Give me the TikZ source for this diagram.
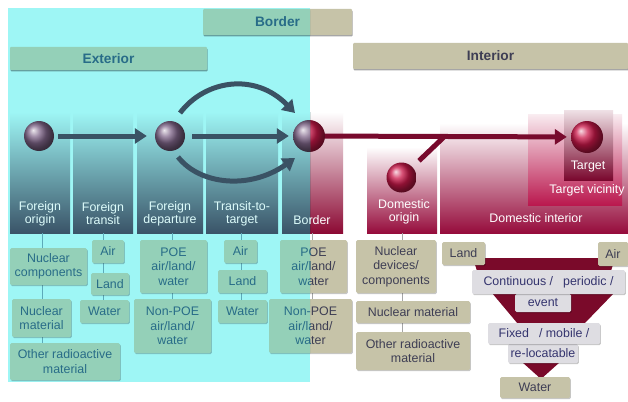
\documentclass[tikz,border=0pt]{standalone}
\usepackage{fontspec}
\setmainfont{Liberation Sans}
\usetikzlibrary{arrows.meta,shadows}

\definecolor{cyanbg}{RGB}{158,246,245}
\definecolor{greenbox}{RGB}{148,208,184}
\definecolor{tanbox}{RGB}{198,195,168}
\definecolor{grayboxc}{RGB}{222,221,226}
\definecolor{slatecol}{RGB}{58,84,104}
\definecolor{crimcol}{RGB}{140,10,52}
\definecolor{domcol}{RGB}{150,12,60}
\definecolor{tvcol}{RGB}{186,24,78}
\definecolor{tgtcol}{RGB}{122,8,46}
\definecolor{funnelc}{RGB}{122,10,42}
\definecolor{slatearr}{RGB}{58,82,100}
\definecolor{maroonarr}{RGB}{120,10,45}
\definecolor{slateball}{RGB}{128,102,138}
\definecolor{redball}{RGB}{204,24,74}
\definecolor{tealtext}{RGB}{40,108,136}
\definecolor{darktext}{RGB}{62,62,84}
\definecolor{navytext}{RGB}{52,52,110}

\newcommand\hdrfont{\fontsize{13.7}{16}\selectfont\bfseries}
\newcommand\boxfont{\fontsize{12.4}{14.5}\selectfont}
\newcommand\colfont{\fontsize{12.4}{13}\selectfont}

\newcommand\myscene{%
  % header bars
  \node[hbar, minimum width=149pt, minimum height=26pt] (hborder) at (277.5,22) {Border};
  \node[hbar, minimum width=197pt, minimum height=23pt] (hext) at (108.5,58.5) {Exterior};
  \node[hbar, minimum width=275pt, minimum height=26pt] (hint) at (490.5,56) {Interior};
  % columns
  \fill[colsh] (10,112) rectangle (70,233);
  \fill[colsh] (73,112) rectangle (133,233);
  \fill[colsh] (137,112) rectangle (203,233);
  \fill[colsh] (206,112) rectangle (278,233);
  \fill[colsh] (282,112) rectangle (343,233);
  \fill[top color=BG, bottom color=domcol] (367,147) rectangle (437,233);
  \fill[top color=BG, bottom color=domcol] (440,123) rectangle (628,233);
  \fill[top color=tvcol!8!BG, bottom color=tvcol] (528,114) rectangle (622,205);
  \fill[top color=tgtcol!12!BG, bottom color=tgtcol] (564,110) rectangle (613,180);
  % column labels
  \node[coltext] (l1) at (40,213.5) {Foreign\\origin};
  \node[coltext] (l2) at (103,213.5) {Foreign\\transit};
  \node[coltext] (l3) at (170,213.5) {Foreign\\departure};
  \node[coltext] (l4) at (242,213.5) {Transit-to-\\target};
  \node[coltext] (l5) at (312,220) {Border};
  \node[coltext] (l6) at (404,212) {Domestic\\origin};
  \node[coltext] (l7) at (536,218) {Domestic interior};
  \node[coltext] (l8) at (588,167) {Target};
  \node[coltext] (l9) at (587,190) {Target vicinity};
  % balls
  \node[orb] (b1) at (39,136) {};
  \node[orb] (b2) at (170,136) {};
  \node[orb, minimum size=32pt] (b3) at (309,136) {};
  \node[orb] (b4) at (401.5,177.5) {};
  \node[orb, minimum size=32pt] (b5) at (587,137) {};
  \coordinate (join) at (445,136);
  % arrows
  \draw[arr, shorten <=4pt, shorten >=8pt] (b1) -- (b2);
  \draw[arr, shorten <=7pt, shorten >=4pt] (b2) -- (b3);
  \draw[arr] ([shift={(10,-23)}]b2.center) .. controls (205,80) and (255,72) .. ([shift={(-14,-23)}]b3.center);
  \draw[arr] ([shift={(8,21)}]b2.center) .. controls (200,185) and (250,190) .. ([shift={(-14,22)}]b3.center);
  \draw[arr, shorten >=4pt] (b3) -- (b5);
  \draw[joinline, shorten <=9pt] (b4) -- (join);
  % tree lines
  \coordinate (cb1) at (42,233);
  \coordinate (cb2) at (103,233);
  \coordinate (cb3) at (172,233);
  \coordinate (cb4) at (241,233);
  \coordinate (cb5) at (312,233);
  \coordinate (cb6) at (402,233);
  \coordinate (e1) at (42,343);
  \coordinate (e2) at (103,300);
  \coordinate (e3) at (172,299);
  \coordinate (e4) at (241,300);
  \coordinate (e5) at (312,299);
  \coordinate (e6) at (402,332);
  \draw[treeline] (cb1) -- (e1);
  \draw[treeline] (cb2) -- (e2);
  \draw[treeline] (cb3) -- (e3);
  \draw[treeline] (cb4) -- (e4);
  \draw[treeline] (cb5) -- (e5);
  \draw[treeline] (cb6) -- (e6);
  % boxes
  \node[lbox, minimum width=77pt, minimum height=37pt] (nc) at (48.5,266.5) {Nuclear\\components};
  \node[lbox, minimum width=59pt, minimum height=38pt] (nm) at (41.5,318) {Nuclear\\material};
  \node[lbox, minimum width=110pt, minimum height=37pt] (ora) at (65,361.5) {Other radioactive\\material};
  \node[lbox, minimum width=32pt, minimum height=23pt] (air1) at (108,251.5) {Air};
  \node[lbox, minimum width=38pt, minimum height=22pt] (land1) at (110,284) {Land};
  \node[lbox, minimum width=49pt, minimum height=23pt] (water1) at (104.5,311.5) {Water};
  \node[lbox, minimum width=67pt, minimum height=53pt] (poe1) at (173.5,266.5) {POE\\air/land/\\water};
  \node[lbox, minimum width=77pt, minimum height=54pt] (npoe1) at (172.5,326) {Non-POE\\air/land/\\water};
  \node[lbox, minimum width=33pt, minimum height=23pt] (air2) at (240.5,251.5) {Air};
  \node[lbox, minimum width=49pt, minimum height=23pt] (land2) at (242.5,281.5) {Land};
  \node[lbox, minimum width=49pt, minimum height=23pt] (water2) at (242.5,311.5) {Water};
  \node[lbox, minimum width=67pt, minimum height=53pt] (poe2) at (313.5,266.5) {POE\\air/land/\\water};
  \node[lbox, minimum width=83pt, minimum height=54pt] (npoe2) at (310.5,326) {Non-POE\\air/land/\\water};
  \node[lbox, minimum width=80pt, minimum height=53pt] (ndc) at (396,266.5) {Nuclear\\devices/\\components};
  \node[lbox, minimum width=114pt, minimum height=22pt] (nm2) at (413,312) {Nuclear material};
  \node[lbox, minimum width=114pt, minimum height=38pt] (ora2) at (413,351) {Other radioactive\\material};
  % funnel
  \fill[funnelc] (473,258) -- (615,258) -- (611,271) -- (477,271) -- cycle;
  \fill[funnelc] (492,293) -- (614,293) -- (584,324) -- (518,324) -- cycle;
  \fill[funnelc] (522,362) -- (560,362) -- (541,379) -- cycle;
  \node[lbox, minimum width=43pt, minimum height=23pt] (land3) at (463.5,253.5) {Land};
  \node[lbox, minimum width=30pt, minimum height=24pt] (air3) at (613,254) {Air};
  \node[gbox, minimum width=56pt, minimum height=18pt] (ev) at (543,303) {event};
  \node[gbox, minimum width=153pt, minimum height=24pt] (cpe) at (548.5,282) {Continuous /\hspace{10pt}periodic /};
  \node[gbox, minimum width=70pt, minimum height=19pt] (rl) at (543,353.5) {re-locatable};
  \node[gbox, minimum width=112pt, minimum height=21pt] (fm) at (544,333.5) {Fixed\hspace{10pt}/ mobile /};
  \node[lbox, minimum width=70pt, minimum height=21pt] (water3) at (535,387.5) {Water};
}

\begin{document}
\begin{tikzpicture}[x=1pt,y=-1pt,
  hbar/.style={fill=BOX, text=HDRT, font=\hdrfont, inner sep=0pt, rounded corners=1pt,
    drop shadow={shadow xshift=0.6pt,shadow yshift=-1.5pt,opacity=0.35,fill=black}},
  lbox/.style={fill=BOX, text=BOXT, font=\boxfont, align=center, inner sep=0pt, rounded corners=1.5pt,
    drop shadow={shadow xshift=0.8pt,shadow yshift=-1.2pt,opacity=0.22,fill=black}},
  gbox/.style={lbox, fill=grayboxc, text=navytext},
  colsh/.style={top color=BG, bottom color=COL},
  orb/.style={circle, minimum size=30pt, inner sep=0pt, ball color=BALL},
  arr/.style={draw=ARR, line width=5pt, -{Triangle[length=12pt,width=15pt]}},
  joinline/.style={draw=ARR, line width=5pt},
  coltext/.style={text=COLT, font=\colfont, align=center, inner sep=0pt},
  treeline/.style={draw=TREE, line width=0.8pt},
]
\useasboundingbox (0,0) rectangle (628,401);
\fill[white] (0,0) rectangle (628,401);
\begin{scope}
  \colorlet{BG}{white}\colorlet{BOX}{tanbox}\colorlet{BOXT}{darktext}
  \colorlet{COL}{crimcol}\colorlet{ARR}{maroonarr}\colorlet{BALL}{redball}
  \colorlet{HDRT}{darktext}\colorlet{COLT}{white}\colorlet{TREE}{black!35}
  \myscene
\end{scope}
\begin{scope}
  \clip (8,8) rectangle (310,382);
  \fill[cyanbg] (8,8) rectangle (310,382);
  \colorlet{BG}{cyanbg}\colorlet{BOX}{greenbox}\colorlet{BOXT}{tealtext}
  \colorlet{COL}{slatecol}\colorlet{ARR}{slatearr}\colorlet{BALL}{slateball}
  \colorlet{HDRT}{tealtext}\colorlet{COLT}{cyanbg!35!white}\colorlet{TREE}{tealtext!55!cyanbg}
  \myscene
\end{scope}
\end{tikzpicture}
\end{document}
